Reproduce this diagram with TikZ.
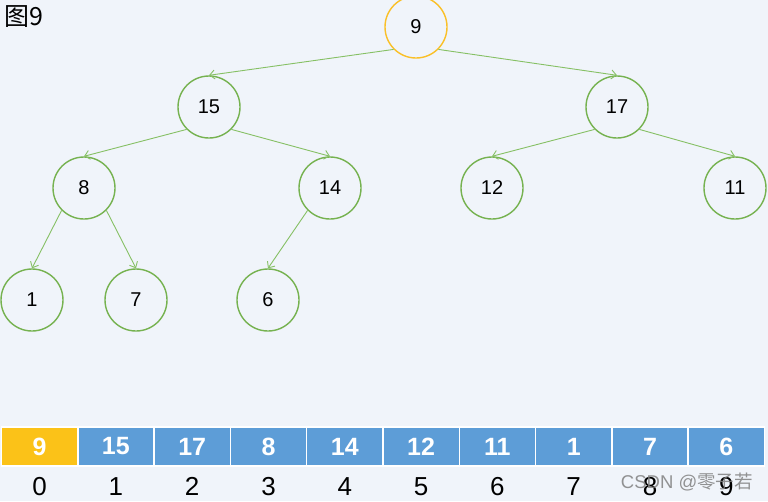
\documentclass[tikz,border=0pt]{standalone}
\usepackage{fontspec}
\setmainfont{Liberation Sans}
\newfontfamily\cjkfont{Noto Sans CJK SC}
\usepackage{tikz}
\usetikzlibrary{arrows.meta, positioning}
\definecolor{heapgreen}{RGB}{118,178,80}
\definecolor{edgegreen}{RGB}{134,192,100}
\definecolor{rootgold}{RGB}{250,192,40}
\definecolor{cellblue}{RGB}{93,157,215}
\definecolor{cellgold}{RGB}{251,194,24}
\definecolor{bgblue}{RGB}{240,244,250}
\tikzset{
  heapnode/.style={
    circle, draw=heapgreen, line width=1.4pt,
    minimum size=62pt, inner sep=0pt,
    font=\fontsize{20}{20}\selectfont
  },
  rootnode/.style={heapnode, draw=rootgold},
  heaparrow/.style={-{Straight Barb[length=5pt,width=9pt]}, draw=edgegreen, line width=0.9pt},
  arraycell/.style={
    rectangle, draw=white, line width=1.5pt, fill=cellblue,
    outer sep=0pt, inner sep=0pt,
    minimum width=76.3pt, minimum height=39pt,
    text=white, font=\fontsize{25}{25}\selectfont\bfseries
  },
  idxlabel/.style={inner sep=0pt, font=\fontsize{26}{26}\selectfont}
}
\begin{document}
\begin{tikzpicture}[x=1pt, y=-1pt]
  \useasboundingbox (0,0) rectangle (768,501);
  \clip (0,0) rectangle (768,501);
  \fill[bgblue] (0,0) rectangle (768,501);

  \node[anchor=west, inner sep=0pt, font=\cjkfont\fontsize{25}{25}\selectfont] (title) at (4,17) {图9};

  % heap as a tree
  \node[rootnode] (n9) at (416,27) {9};
  \node[heapnode] (n15) at (209,107) {15};
  \node[heapnode] (n17) at (617,107) {17};
  \node[heapnode] (n8) at (84,188) {8};
  \node[heapnode] (n14) at (330,188) {14};
  \node[heapnode] (n12) at (492,188) {12};
  \node[heapnode] (n11) at (735,188) {11};
  \node[heapnode] (n1) at (32,300) {1};
  \node[heapnode] (n7) at (136,300) {7};
  \node[heapnode] (n6) at (268,300) {6};

  \draw[heaparrow] (n9.south west) -- (n15.north);
  \draw[heaparrow] (n9.south east) -- (n17.north);
  \draw[heaparrow] (n15.south west) -- (n8.north);
  \draw[heaparrow] (n15.south east) -- (n14.north);
  \draw[heaparrow] (n17.south west) -- (n12.north);
  \draw[heaparrow] (n17.south east) -- (n11.north);
  \draw[heaparrow] (n8.south west) -- (n1.north);
  \draw[heaparrow] (n8.south east) -- (n7.north);
  \draw[heaparrow] (n14.south west) -- (n6.north);

  % heap as an array
  \node[arraycell, fill=cellgold] (a0) at (39.6,446.5) {9};
  \node[arraycell, right=0pt of a0] (a1) {15};
  \node[arraycell, right=0pt of a1] (a2) {17};
  \node[arraycell, right=0pt of a2] (a3) {8};
  \node[arraycell, right=0pt of a3] (a4) {14};
  \node[arraycell, right=0pt of a4] (a5) {12};
  \node[arraycell, right=0pt of a5] (a6) {11};
  \node[arraycell, right=0pt of a6] (a7) {1};
  \node[arraycell, right=0pt of a7] (a8) {7};
  \node[arraycell, right=0pt of a8] (a9) {6};

  \node[idxlabel, below=11pt of a0] (i0) {0};
  \node[idxlabel, below=11pt of a1] (i1) {1};
  \node[idxlabel, below=11pt of a2] (i2) {2};
  \node[idxlabel, below=11pt of a3] (i3) {3};
  \node[idxlabel, below=11pt of a4] (i4) {4};
  \node[idxlabel, below=11pt of a5] (i5) {5};
  \node[idxlabel, below=11pt of a6] (i6) {6};
  \node[idxlabel, below=11pt of a7] (i7) {7};
  \node[idxlabel, below=11pt of a8] (i8) {8};
  \node[idxlabel, below=11pt of a9] (i9) {9};

  \node[anchor=east, inner sep=0pt, text=gray, opacity=0.85, font=\fontsize{18.5}{18.5}\selectfont] (mark) at (753,482) {CSDN @{\cjkfont 零子若}};
\end{tikzpicture}
\end{document}
